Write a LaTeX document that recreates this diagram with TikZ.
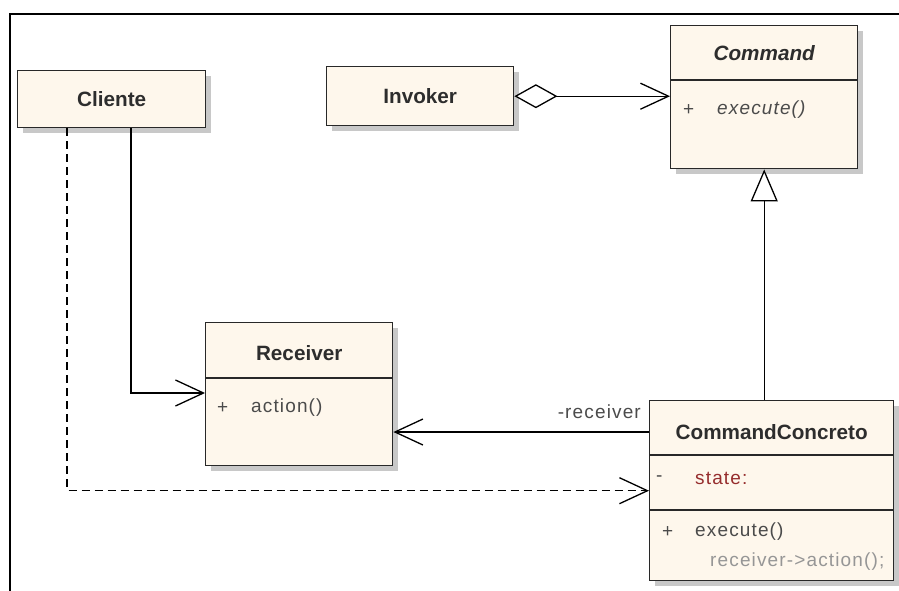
\documentclass[tikz,border=0pt]{standalone}
\usepackage{fontspec}
\setmainfont{Liberation Sans}
\newfontfamily\memberfont[LetterSpace=6]{Liberation Sans}
\usetikzlibrary{arrows.meta,shadows}

\definecolor{classfill}{RGB}{254,247,236}
\definecolor{classedge}{RGB}{40,40,40}
\definecolor{shadowgray}{RGB}{200,200,200}
\definecolor{titleink}{RGB}{45,45,45}
\definecolor{memberink}{RGB}{75,75,75}
\definecolor{attrink}{RGB}{150,45,45}
\definecolor{codeink}{RGB}{150,150,150}

\tikzset{
  classbox/.style={draw=classedge, line width=1.4pt, fill=classfill, rectangle,
    inner sep=0pt, anchor=north west,
    general shadow={fill=shadowgray, shadow xshift=5pt, shadow yshift=-5pt}},
  divider/.style={draw=classedge, line width=1.4pt},
  title/.style={font=\fontsize{20.7}{24}\selectfont\bfseries, text=titleink, inner sep=0pt},
  member/.style={font=\fontsize{19}{22}\memberfont, text=memberink, inner sep=0pt, anchor=west},
  link/.style={draw=black, line width=1.3pt},
  barb/.tip={Straight Barb[length=28pt, width=26pt]},
  hollowtri/.tip={Triangle[fill=white, length=32pt, width=27pt]},
  hollowdiamond/.tip={Diamond[fill=white, length=43pt, width=24pt]},
}

\begin{document}
\begin{tikzpicture}[x=1pt, y=-1pt]
  \useasboundingbox (0,0) rectangle (899,590);

  % outer frame
  \draw[line width=2pt] (10,592) -- (10,14) -- (901,14);

  % class boxes
  \node[classbox, minimum width=188pt, minimum height=57pt] (cliente) at (17,70) {};
  \node[classbox, minimum width=187pt, minimum height=59pt] (invoker) at (326,66) {};
  \node[classbox, minimum width=187pt, minimum height=143pt] (command) at (670,25) {};
  \node[classbox, minimum width=187pt, minimum height=143pt] (receiver) at (205,322) {};
  \node[classbox, minimum width=244pt, minimum height=180pt] (concreto) at (649,400) {};

  % compartment dividers
  \draw[divider] (command.west |- 0,80) -- (command.east |- 0,80);
  \draw[divider] (receiver.west |- 0,378) -- (receiver.east |- 0,378);
  \draw[divider] (concreto.west |- 0,455) -- (concreto.east |- 0,455);
  \draw[divider] (concreto.west |- 0,510) -- (concreto.east |- 0,510);

  % class names
  \node[title] (clienteName) at (cliente.center) {Cliente};
  \node[title] (invokerName) at (invoker.center) {Invoker};
  \node[title, font=\fontsize{20.7}{24}\selectfont\bfseries\itshape] (commandName) at (command.center |- 0,53) {Command};
  \node[title] (receiverName) at (receiver.center |- 0,353) {Receiver};
  \node[title] (concretoName) at (concreto.center |- 0,432) {CommandConcreto};

  % members
  \node[member] (cmdVis) at (683,110) {+};
  \node[member, font=\fontsize{19}{22}\memberfont\itshape] (cmdOp) at (717,110) {execute()};
  \node[member] (rcvVis) at (217,408) {+};
  \node[member] (rcvOp) at (251,408) {action()};
  \node[member] (stVis) at (656,479) {-};
  \node[member, text=attrink] (stAttr) at (695,478) {state:};
  \node[member] (exVis) at (662,532) {+};
  \node[member] (exOp) at (695,532) {execute()};
  \node[member, text=codeink] (exBody) at (710,562) {receiver->action();};

  % Invoker aggregates Command
  \draw[link, {hollowdiamond}-{barb}] (invoker.east) -- (invoker.east -| command.west);

  % CommandConcreto realizes Command
  \draw[link, -{hollowtri}] (concreto.north -| command.south) -- (command.south);

  % CommandConcreto holds a Receiver
  \draw[link, -{barb}] (concreto.west |- 0,432) -- (receiver.east |- 0,432);
  \node[member, anchor=east] (roleName) at (641,412) {-receiver};

  % Cliente uses Receiver
  \draw[link, -{barb}] (cliente.south -| 131,0) |- (receiver.west |- 0,393);

  % Cliente depends on CommandConcreto
  \draw[link, dash pattern=on 8pt off 5pt, -{barb}] (cliente.south -| 67,0) |- (concreto.west);
\end{tikzpicture}
\end{document}
